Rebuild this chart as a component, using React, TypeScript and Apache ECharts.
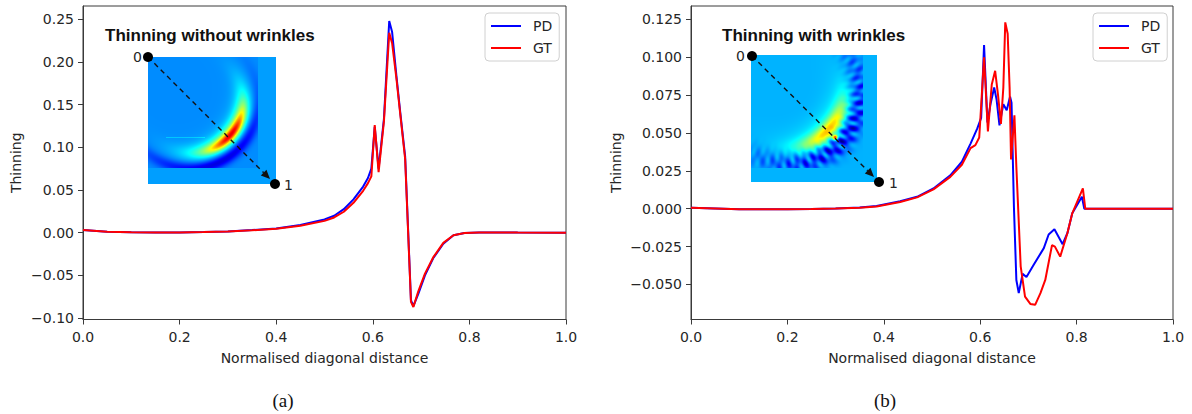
import React, { useEffect, useRef } from "react";
import * as echarts from "echarts";

// ---------- Data ----------
// (a) Thinning without wrinkles
const distA = [0, 0.05, 0.1, 0.15, 0.2, 0.25, 0.3, 0.35, 0.4, 0.45, 0.5, 0.52, 0.54, 0.56, 0.58, 0.59, 0.597, 0.604, 0.612, 0.623, 0.634, 0.64, 0.649, 0.657, 0.667, 0.679, 0.684, 0.694, 0.708, 0.725, 0.746, 0.767, 0.79, 0.82, 0.9, 1.0];
const pdA = [0.003, 0.001, 0.0005, 0.0003, 0.0003, 0.0008, 0.0015, 0.003, 0.005, 0.009, 0.0155, 0.0198, 0.0275, 0.039, 0.054, 0.064, 0.075, 0.124, 0.075, 0.133, 0.248, 0.235, 0.183, 0.14, 0.089, -0.079, -0.086, -0.072, -0.05, -0.03, -0.013, -0.003, -0.0005, 0.0003, 0.0001, 0.0];
const gtA = [0.003, 0.001, 0.0005, 0.0003, 0.0003, 0.0007, 0.0013, 0.0027, 0.0045, 0.008, 0.0138, 0.0178, 0.0245, 0.035, 0.049, 0.058, 0.066, 0.126, 0.071, 0.13, 0.234, 0.222, 0.18, 0.138, 0.086, -0.081, -0.087, -0.069, -0.048, -0.029, -0.012, -0.003, -0.0005, 0.0003, 0.0001, 0.0];

// (b) Thinning with wrinkles
const distBpd = [0, 0.05, 0.1, 0.15, 0.2, 0.25, 0.3, 0.35, 0.385, 0.434, 0.469, 0.503, 0.538, 0.562, 0.58, 0.594, 0.602, 0.608, 0.615, 0.622, 0.629, 0.634, 0.64, 0.648, 0.655, 0.662, 0.665, 0.67, 0.675, 0.68, 0.688, 0.696, 0.711, 0.732, 0.742, 0.754, 0.771, 0.781, 0.791, 0.811, 0.816, 0.9, 1.0];
const pdB = [0.0007, 0.0002, -0.0004, -0.0004, -0.0003, -0.0001, 0.0002, 0.0008, 0.0018, 0.005, 0.0079, 0.0134, 0.022, 0.031, 0.043, 0.053, 0.06, 0.108, 0.057, 0.07, 0.08, 0.072, 0.055, 0.069, 0.065, 0.074, 0.07, 0.001, -0.047, -0.0557, -0.043, -0.045, -0.037, -0.026, -0.017, -0.0136, -0.0234, -0.016, -0.003, 0.0079, 0.0, 0.0, 0.0];
const distBgt = [0, 0.05, 0.1, 0.15, 0.2, 0.25, 0.3, 0.35, 0.385, 0.434, 0.469, 0.503, 0.538, 0.562, 0.58, 0.59, 0.598, 0.608, 0.616, 0.624, 0.631, 0.637, 0.643, 0.648, 0.652, 0.657, 0.661, 0.664, 0.667, 0.671, 0.675, 0.684, 0.693, 0.704, 0.714, 0.725, 0.735, 0.749, 0.755, 0.766, 0.781, 0.791, 0.813, 0.818, 0.9, 1.0];
const gtB = [0.0007, 0.0002, -0.0004, -0.0004, -0.0003, -0.0002, 0.0001, 0.0006, 0.0015, 0.0045, 0.0075, 0.0128, 0.021, 0.029, 0.04, 0.042, 0.047, 0.1, 0.051, 0.082, 0.091, 0.075, 0.056, 0.08, 0.123, 0.1155, 0.08, 0.0325, 0.045, 0.0617, 0.0277, -0.038, -0.058, -0.0628, -0.0634, -0.0557, -0.047, -0.024, -0.025, -0.0316, -0.016, -0.003, 0.0134, 0.0, 0.0, 0.0];

const xTicks = [0, 0.2, 0.4, 0.6, 0.8, 1.0];
const yTicksA = [-0.1, -0.05, 0, 0.05, 0.1, 0.15, 0.2, 0.25];
const yTicksB = [-0.05, -0.025, 0, 0.025, 0.05, 0.075, 0.1, 0.125];
const seriesNames = ["PD", "GT"];
const titles = ["Thinning without wrinkles", "Thinning with wrinkles"];
const panelLabels = ["(a)", "(b)"];

// ---------- Styling ----------
const FONT = "DejaVu Sans";
const AXIS = "#3a3a3a";
const TXT = "#262626";
const BLUE = "#0000ff";
const RED = "#ff0000";

const pair = (xs: number[], ys: number[]) => xs.map((x, i) => [x, ys[i]]);
const fmtY = (d: number) => (v: number) => {
  const a = Math.abs(v) < 1e-9 ? 0 : v;
  return (a < 0 ? "\u2212" : "") + Math.abs(a).toFixed(d);
};

function jet(t: number): [number, number, number] {
  const c = (x: number) => Math.max(0, Math.min(1, x));
  return [c(1.5 - Math.abs(4 * t - 3)), c(1.5 - Math.abs(4 * t - 2)), c(1.5 - Math.abs(4 * t - 1))];
}

const g = (x: number, m: number, s: number) => Math.exp(-Math.pow((x - m) / s, 2));

// decorative inset picture (thinning contour), drawn on a canvas
function insetImage(kind: "a" | "b"): string {
  const W = kind === "a" ? 128 : 126;
  const H = 127;
  const cv = document.createElement("canvas");
  cv.width = W;
  cv.height = H;
  const ctx = cv.getContext("2d");
  if (!ctx) return "";
  const img = ctx.createImageData(W, H);
  for (let v = 0; v < H; v++) {
    for (let u = 0; u < W; u++) {
      let t: number;
      if (kind === "a") {
        if (u >= 110 || v >= 111) {
          t = 0.28;
        } else {
          const dx = u - 42, dy = v - 43;
          const r = Math.hypot(dx, dy);
          const ang = Math.atan2(dy, dx);
          const envCore = g(ang, 0.7, 0.5);
          const envWide = g(ang, 0.7, 0.85);
          const hot = 0.32 * envCore * g(r, 53, 4.5) + 0.26 * envWide * g(r, 52, 8) + 0.06 * envWide * g(r, 51, 14);
          const dark = 0.18 * g(ang, 1.1, 1.1) * g(r, 68, 6);
          let line = 0;
          if (ang > 1.2 && Math.abs(v - 80) < 0.8 && u > 17 && u < 70) line = 0.05;
          t = 0.2625 + hot - dark + line;
        }
      } else {
        if (u >= 112 || v >= 113) {
          t = 0.3;
        } else {
          const dx = u - 37, dy = v - 37;
          const r = Math.hypot(dx, dy);
          const ang = Math.atan2(dy, dx);
          const hot = 0.34 * g(ang, 0.75, 0.6) * g(r, 55, 8) + 0.06 * g(ang, 0.75, 0.9) * g(r, 50, 16);
          const red = 0.5 * Math.exp(-Math.pow((u - 84) / 2.5, 2) - Math.pow((v - 82) / 2.5, 2));
          const stripe = 0.5 + 0.25 * Math.sin(ang * 53) + 0.25 * Math.sin(ang * 31 + r * 0.4);
          const dark = 0.3 * g(ang, 0.7, 1.2) * stripe * g(r, 72, 10);
          t = 0.3 + hot + red - dark;
        }
      }
      const [R, G, B] = jet(Math.max(0, Math.min(1, t)));
      const k = (v * W + u) * 4;
      img.data[k] = Math.round(R * 255);
      img.data[k + 1] = Math.round(G * 255);
      img.data[k + 2] = Math.round(B * 255);
      img.data[k + 3] = 255;
    }
  }
  ctx.putImageData(img, 0, 0);
  return cv.toDataURL("image/png");
}

function xAxis(gridIndex: number) {
  return {
    type: "value",
    gridIndex,
    min: 0,
    max: 1,
    interval: 0.2,
    name: "Normalised diagonal distance",
    nameLocation: "middle",
    nameGap: 31,
    nameTextStyle: { fontFamily: FONT, fontSize: 14, color: TXT },
    axisLine: { show: true, onZero: false, lineStyle: { color: AXIS, width: 1 } },
    axisTick: { show: true, length: 5, lineStyle: { color: AXIS }, customValues: xTicks },
    axisLabel: { fontFamily: FONT, fontSize: 14, color: TXT, margin: 10, formatter: (v: number) => v.toFixed(1), customValues: xTicks },
    splitLine: { show: false },
  };
}

function yAxis(gridIndex: number, min: number, max: number, ticks: number[], dec: number, gap: number) {
  return {
    type: "value",
    gridIndex,
    min,
    max,
    name: "Thinning",
    nameLocation: "middle",
    nameGap: gap,
    nameTextStyle: { fontFamily: FONT, fontSize: 14, color: TXT },
    axisLine: { show: true, onZero: false, lineStyle: { color: AXIS, width: 1 } },
    axisTick: { show: true, length: 5, lineStyle: { color: AXIS }, customValues: ticks },
    axisLabel: { fontFamily: FONT, fontSize: 14, color: TXT, margin: 9, formatter: fmtY(dec), customValues: ticks },
    splitLine: { show: false },
  };
}

function legend(left: number) {
  return {
    left,
    top: 13,
    orient: "vertical",
    icon: "rect",
    itemWidth: 30,
    itemHeight: 2,
    itemGap: 6,
    padding: [5, 7, 5, 6],
    backgroundColor: "rgba(255,255,255,0.85)",
    borderColor: "#d0d0d0",
    borderWidth: 1,
    borderRadius: 4,
    data: seriesNames,
    selectedMode: false,
    textStyle: { fontFamily: FONT, fontSize: 14, color: TXT, lineHeight: 16, padding: [0, 0, 0, 7] },
  };
}

function inset(img: string, x0: number, y0: number, w: number, h: number, p0: number[], p1: number[], tip: number[], label0: number[], label1: number[]) {
  const d = Math.SQRT1_2;
  const bx = tip[0] - 9 * d, by = tip[1] - 9 * d;
  const px = -4 * d, py = 4 * d;
  return [
    { type: "image", x: x0, y: y0, z: 50, style: { image: img, width: w, height: h } },
    { type: "line", z: 51, shape: { x1: p0[0], y1: p0[1], x2: bx, y2: by }, style: { stroke: "#111", lineWidth: 1.4, lineDash: [5, 4] } },
    { type: "polygon", z: 52, shape: { points: [[tip[0], tip[1]], [bx + px, by + py], [bx - px, by - py]] }, style: { fill: "#111" } },
    { type: "circle", z: 53, shape: { cx: p0[0], cy: p0[1], r: 5 }, style: { fill: "#000" } },
    { type: "circle", z: 53, shape: { cx: p1[0], cy: p1[1], r: 5 }, style: { fill: "#000" } },
    { type: "text", z: 53, x: label0[0], y: label0[1], style: { text: "0", fontFamily: FONT, fontSize: 14, fill: TXT, align: "right", verticalAlign: "middle" } },
    { type: "text", z: 53, x: label1[0], y: label1[1], style: { text: "1", fontFamily: FONT, fontSize: 14, fill: TXT, align: "left", verticalAlign: "middle" } },
  ];
}

export default function App() {
  const ref = useRef<HTMLDivElement>(null);
  useEffect(() => {
    if (!ref.current) return;
    const chart = echarts.init(ref.current, undefined, { renderer: "svg" });
    const imgA = insetImage("a");
    const imgB = insetImage("b");
    const gridBase = { show: true, borderColor: AXIS, borderWidth: 1, backgroundColor: "transparent", top: 6, height: 313.5 };
    const line = (name: string, color: string, xi: number, data: number[][], z: number) => ({
      type: "line",
      name,
      xAxisIndex: xi,
      yAxisIndex: xi,
      data,
      showSymbol: false,
      symbol: "none",
      z,
      lineStyle: { color, width: 2 },
      itemStyle: { color },
    });
    chart.setOption({
      animation: false,
      backgroundColor: "#ffffff",
      grid: [
        { ...gridBase, left: 83, width: 483 },
        { ...gridBase, left: 691, width: 482 },
      ],
      xAxis: [xAxis(0), xAxis(1)],
      yAxis: [
        yAxis(0, -0.1017, 0.2655, yTicksA, 2, 60),
        yAxis(1, -0.0731, 0.1338, yTicksB, 3, 68),
      ],
      legend: [legend(485), legend(1093)],
      series: [
        line(seriesNames[0], BLUE, 0, pair(distA, pdA), 2),
        line(seriesNames[1], RED, 0, pair(distA, gtA), 3),
        line(seriesNames[0], BLUE, 1, pair(distBpd, pdB), 2),
        line(seriesNames[1], RED, 1, pair(distBgt, gtB), 3),
      ],
      graphic: [
        { type: "text", z: 60, x: 105, y: 35, style: { text: titles[0], fontFamily: "Liberation Sans", fontWeight: "bold", fontSize: 17, fill: "#111", align: "left", verticalAlign: "middle" } },
        { type: "text", z: 60, x: 722, y: 35, style: { text: titles[1], fontFamily: "Liberation Sans", fontWeight: "bold", fontSize: 17, fill: "#111", align: "left", verticalAlign: "middle" } },
        ...inset(imgA, 148, 57, 128, 127, [148, 57], [275, 184], [270, 179], [142, 57], [284, 185]),
        ...inset(imgB, 751, 55, 126, 127, [752, 56], [879, 182], [874, 177], [745, 56], [889, 183]),
        { type: "text", x: 283, y: 400, style: { text: panelLabels[0], fontFamily: "Liberation Serif", fontSize: 19, fill: "#111", align: "center", verticalAlign: "middle" } },
        { type: "text", x: 885, y: 400, style: { text: panelLabels[1], fontFamily: "Liberation Serif", fontSize: 19, fill: "#111", align: "center", verticalAlign: "middle" } },
      ],
    });
    return () => chart.dispose();
  }, []);
  return <div ref={ref} style={{ position: "absolute", left: 0, top: 0, width: 1192, height: 414 }} />;
}
